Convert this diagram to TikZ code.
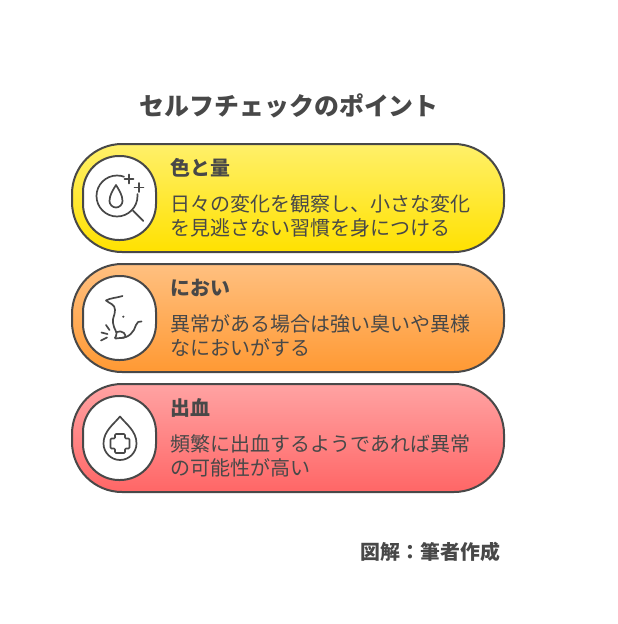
\documentclass[tikz,border=0pt]{standalone}
\usepackage{fontspec}
\setmainfont{Noto Sans CJK JP}
\usetikzlibrary{calc,positioning}
\definecolor{ink}{HTML}{484848}
\definecolor{yellowtop}{HTML}{FFF06A}
\definecolor{yellowbot}{HTML}{FFE100}
\definecolor{orangetop}{HTML}{FFC080}
\definecolor{orangebot}{HTML}{FF9933}
\definecolor{redtop}{HTML}{FFA3A3}
\definecolor{redbot}{HTML}{FF6666}
\tikzset{
  card/.style={draw=ink,line width=2pt,rounded corners=50pt,minimum width=432pt,minimum height=108pt,inner sep=0pt},
  iconbox/.style={draw=ink,fill=white,line width=2pt,rounded corners=36pt,minimum width=73pt,minimum height=84pt,inner sep=0pt},
  heading/.style={anchor=west,inner sep=0pt,text=ink,font=\fontsize{19.9pt}{24pt}\selectfont\bfseries},
  body/.style={anchor=west,inner sep=0pt,text=ink,align=left,font=\fontsize{20pt}{24pt}\selectfont},
  icon/.style={draw=ink,line width=1.7pt,line cap=round,line join=round}
}
\begin{document}
\begin{tikzpicture}[x=1pt,y=-1pt]
    \useasboundingbox (0,0) rectangle (618,624);

    \node[anchor=west,inner sep=0pt,text=ink,font=\fontsize{24.9pt}{30pt}\selectfont\bfseries] (title) at (139.7,106.3) {セルフチェックのポイント};

    % cards
    \node[card,top color=yellowtop,bottom color=yellowbot] (cardA) at (288,198) {};
    \node[card,top color=orangetop,bottom color=orangebot] (cardB) at (288,318) {};
    \node[card,top color=redtop,bottom color=redbot] (cardC) at (288,438) {};

    \node[iconbox] (boxA) at (119.5,198) {};
    \node[iconbox] (boxB) at (119.5,318) {};
    \node[iconbox] (boxC) at (119.5,438) {};

    \node[heading] (headA) at (170.3,167.5) {色と量};
    \node[body] (textA) at (170.3,215.7) {日々の変化を観察し、小さな変化\\を見逃さない習慣を身につける};
    \node[heading] (headB) at (170.3,287.5) {におい};
    \node[body] (textB) at (170.3,335.7) {異常がある場合は強い臭いや異様\\なにおいがする};
    \node[heading] (headC) at (170.3,407.5) {出血};
    \node[body] (textC) at (170.3,455.7) {頻繁に出血するようであれば異常\\の可能性が高い};

    % magnifier with drop
    \draw[icon] (124,176.7) .. controls (122,176) and (119.5,175.5) .. (117,175.5)
      .. controls (105.7,175.5) and (96.5,184.7) .. (96.5,196)
      .. controls (96.5,207.3) and (105.7,216.5) .. (117,216.5)
      .. controls (128.3,216.5) and (137.5,207.3) .. (137.5,196)
      .. controls (137.5,195.3) and (137.5,194.7) .. (137.4,194);
    \draw[icon] (133,210.7) -- (143.3,221);
    \draw[icon] (129,174.5) -- (129,183.5) (124.5,179) -- (133.5,179);
    \draw[icon] (139,183) -- (139,192) (134.5,187.5) -- (143.5,187.5);
    \draw[icon] (116,185) .. controls (113,190) and (109.5,195) .. (109.5,201)
      .. controls (109.5,204.5) and (112.5,207.5) .. (116,207.5)
      .. controls (119.5,207.5) and (122.5,204.5) .. (122.5,201)
      .. controls (122.5,195) and (119,190) .. (116,185) -- cycle;

    % nose
    \draw[icon] (122.5,296) .. controls (116,298) and (110,298) .. (106,300.5)
      .. controls (110,304) and (115,304) .. (115,310)
      .. controls (115,316) and (112,318) .. (113,323)
      .. controls (114,330) and (118,332) .. (116,336)
      .. controls (113,340) and (117,338) .. (120,338)
      .. controls (125,338) and (127,337) .. (124,333)
      .. controls (122,331) and (119,331) .. (117,332);
    \draw[icon] (120,338) .. controls (129,338) and (134,332) .. (136,325) .. controls (137,322) and (139,321) .. (141.5,321.5);
    \fill[ink] (123.3,316.7) circle[radius=1.2];
    \draw[icon] (106,325) -- (109.5,330);
    \draw[icon] (101.5,332.5) -- (107.5,334);
    \draw[icon] (101,340.5) -- (107,337.5);

    % drop with cross
    \draw[icon] (120,416.5) .. controls (114,424) and (103.5,431) .. (103.5,443.5)
      .. controls (103.5,452.5) and (111,460) .. (120,460)
      .. controls (129,460) and (136.5,452.5) .. (136.5,443.5)
      .. controls (136.5,431) and (126,424) .. (120,416.5) -- cycle;
    \draw[icon,rounded corners=1pt] (115,434) -- (125,434) -- (125,438.5) -- (129.5,438.5) -- (129.5,448.5) -- (125,448.5) -- (125,453) -- (115,453) -- (115,448.5) -- (110.5,448.5) -- (110.5,438.5) -- (115,438.5) -- cycle;

    \node[anchor=east,inner sep=0pt,text=ink,font=\fontsize{19.9pt}{24pt}\selectfont\bfseries] (source) at (500.3,551.5) {図解：筆者作成};
\end{tikzpicture}
\end{document}
